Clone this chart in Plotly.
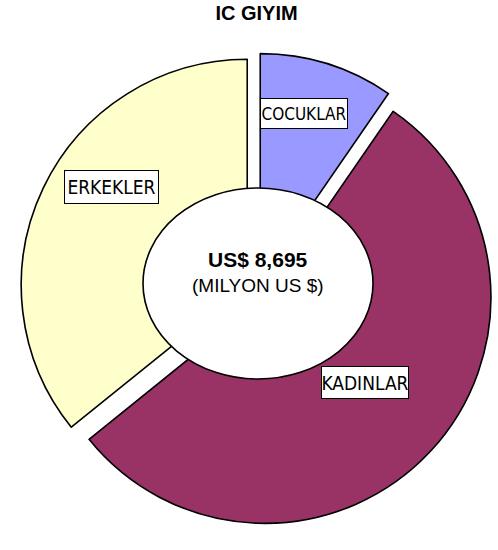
import plotly.graph_objects as go

# ---- data ----
categories = ["COCUKLAR", "KADINLAR", "ERKEKLER"]
values = [835, 4747, 3113]          # milyon US $
colors = ["#9999FF", "#993366", "#FFFFCC"]
chart_title = "IC GIYIM"
total_label = "US$ 8,695"
unit_label = "(MILYON US $)"

W, H = 498, 550
FONT = "Liberation Sans, Arial, sans-serif"
NARROW = "Liberation Sans Narrow, Arial Narrow, DejaVu Sans Condensed, sans-serif"

def px(x):
    return x / W

def py(y):
    return 1 - y / H

# pie geometry (pixels)
cx, cy, r, pull = 257, 290, 226, 0.048
half = r * (1 + pull)

fig = go.Figure(go.Pie(
    labels=categories,
    values=values,
    sort=False,
    direction="clockwise",
    rotation=0,
    pull=[pull] * len(values),
    marker=dict(colors=colors, line=dict(color="black", width=1.6)),
    textinfo="none",
    hoverinfo="label+value+percent",
    showlegend=False,
    domain=dict(x=[px(cx - half), px(cx + half)], y=[py(cy + half), py(cy - half)]),
))

# central white ellipse
fig.add_shape(type="circle", xref="paper", yref="paper",
              x0=px(143), x1=px(373), y0=py(379), y1=py(188),
              fillcolor="white", line=dict(color="black", width=1.6), layer="above")

# centre texts
fig.add_annotation(x=px(258), y=py(260), xref="paper", yref="paper", text="<b>" + total_label + "</b>",
                   showarrow=False, xanchor="center", yanchor="middle",
                   font=dict(family=FONT, size=21, color="black"))
fig.add_annotation(x=px(258), y=py(285), xref="paper", yref="paper", text=unit_label,
                   showarrow=False, xanchor="center", yanchor="middle",
                   font=dict(family=FONT, size=19, color="black"))

# slice labels in boxes
label_pos = {"COCUKLAR": (303.5, 113), "KADINLAR": (364.5, 382), "ERKEKLER": (111, 186.5)}
label_size = {"COCUKLAR": (86, 29), "KADINLAR": (86, 31), "ERKEKLER": (93, 32)}
label_font = {"COCUKLAR": 17, "KADINLAR": 19, "ERKEKLER": 19}
for c in categories:
    x, y = label_pos[c]
    w, h = label_size[c]
    fig.add_annotation(x=px(x), y=py(y), xref="paper", yref="paper", text=c,
                       showarrow=False, xanchor="center", yanchor="middle",
                       bgcolor="white", bordercolor="black", borderwidth=1,
                       borderpad=0, width=w, height=h, align="center",
                       font=dict(family=NARROW, size=label_font[c], color="black"))

fig.update_layout(
    width=W, height=H,
    margin=dict(l=0, r=0, t=0, b=0),
    paper_bgcolor="white", plot_bgcolor="white",
    title=dict(text="<b>" + chart_title + "</b>", x=px(256.5), xanchor="center",
               y=py(13), yanchor="middle", xref="paper", yref="container",
               font=dict(family=FONT, size=20, color="black")),
)

fig.write_html("out.html", config={"displayModeBar": False},
               post_script="document.body.style.margin='0';")
